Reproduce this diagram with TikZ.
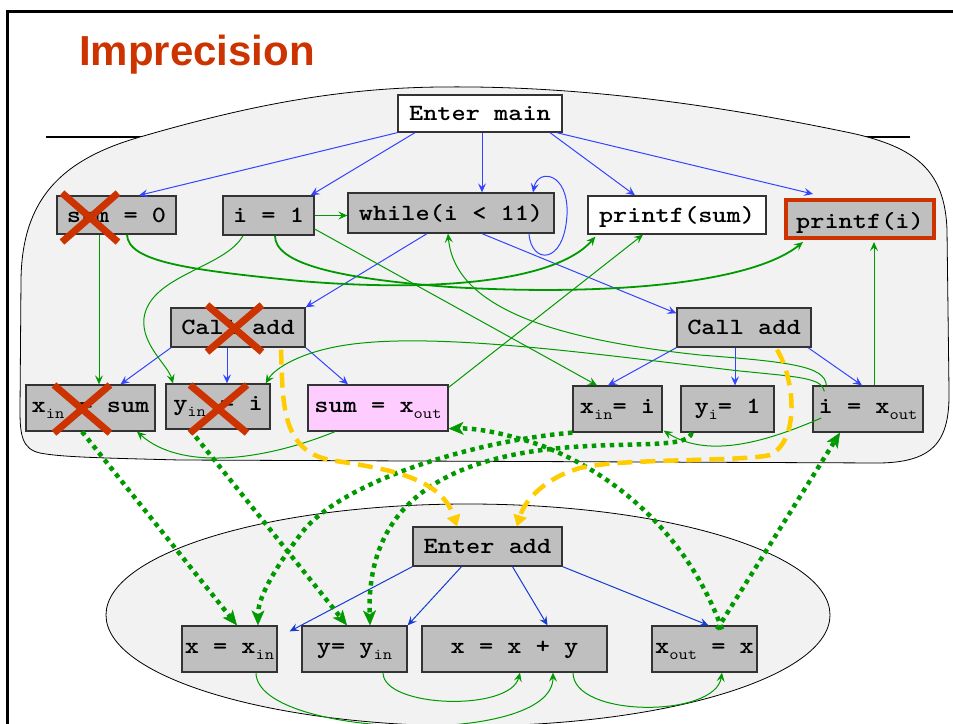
\documentclass[tikz,border=0pt]{standalone}
\usepackage{fontspec}
\usepackage{graphicx}
\usetikzlibrary{arrows.meta,calc}
\newfontfamily\titlefont{Liberation Sans}
\definecolor{titlered}{RGB}{204,51,0}
\definecolor{paneback}{RGB}{242,242,242}
\definecolor{stmtgray}{RGB}{191,191,191}
\definecolor{outpink}{RGB}{255,204,255}
\definecolor{cfgblue}{RGB}{51,68,255}
\definecolor{addblue}{RGB}{20,60,210}
\definecolor{depgreen}{RGB}{0,153,0}
\definecolor{linkyellow}{RGB}{255,204,0}
% statement text: bold typewriter, slightly flattened
\newcommand\cd[1]{\scalebox{1}[0.86]{#1}}
\newcommand\lowtxt[1]{\raisebox{-7pt}{\fontsize{18}{18}\selectfont\mdseries #1}}
% red cross over a removed statement
\newcommand\knockout[3]{%
  \draw[knock] ([shift={(-#2,-#3)}]#1) -- ([shift={(#2,#3)}]#1);
  \draw[knock] ([shift={(#2,-#3)}]#1) -- ([shift={(-#2,#3)}]#1);}
\tikzset{
  stmt/.style={draw=black!80, line width=1.3pt, fill=stmtgray, inner sep=0pt,
    font=\fontsize{27}{27}\selectfont\ttfamily\bfseries, text height=18pt, text depth=4pt},
  subst/.style={stmt, text height=14pt, text depth=6pt},
  cfg/.style={cfgblue, line width=1pt, -{Stealth[length=9pt,width=8pt,inset=3.5pt]}},
  cfgadd/.style={cfg, addblue},
  dep/.style={depgreen, line width=1pt, -{Stealth[length=9pt,width=8pt,inset=3.5pt]}},
  depthick/.style={dep, line width=1.8pt},
  link/.style={depgreen, line width=4.5pt, dash pattern=on 4.5pt off 4.5pt,
    -{Stealth[length=15pt,width=13pt,inset=4pt,line width=0.5pt]}},
  callret/.style={linkyellow, line width=4.5pt, dash pattern=on 15pt off 8pt,
    -{Triangle[length=11pt,width=14pt,line width=0.5pt]}},
  knock/.style={titlered, line width=7pt},
  region/.style={fill=paneback, draw=black, line width=0.8pt},
}
\begin{document}
\begin{tikzpicture}[x=1pt,y=-1pt]
\useasboundingbox (0,0) rectangle (953,723);
% slide frame and rule
\draw[line width=3pt] (7,730) -- (7,11) -- (960,11);
\draw[line width=2.5pt] (46,137) -- (910,137);
\node[anchor=base west, inner sep=0pt, text=titlered, font=\titlefont\bfseries\fontsize{42}{42}\selectfont] (title) at (79,65) {Imprecision};

% procedure regions
\draw[region] (440,87) .. controls (600,85) and (750,112) .. (851,133)
  .. controls (915,147) and (945,170) .. (947,230) -- (949,390)
  .. controls (950,440) and (935,462) .. (880,463) -- (180,460)
  .. controls (100,458) and (60,457) .. (40,453)
  .. controls (22,449) and (20,435) .. (20,410) -- (21,280)
  .. controls (22,200) and (60,160) .. (140,137)
  .. controls (250,105) and (340,88) .. (440,87) -- cycle;
\draw[region] (468,615) ellipse [x radius=362pt, y radius=111pt];

% main
\node[stmt, fill=white, minimum width=164pt, minimum height=37pt] (entermain) at (480,113.5) {\cd{Enter main}};
\node[stmt, minimum width=119pt, minimum height=38pt] (sumzero) at (116.5,215) {\cd{sum = 0}};
\node[stmt, minimum width=91pt, minimum height=39pt] (ione) at (268.5,215.5) {\cd{i = 1}};
\node[stmt, minimum width=206pt, minimum height=40pt] (loopw) at (451,213) {\cd{while(i < 11)}};
\node[stmt, fill=white, minimum width=178pt, minimum height=38pt] (psum) at (677,215) {\cd{printf(sum)}};
\node[stmt, draw=titlered, line width=4pt, minimum width=148pt, minimum height=38pt, text height=19pt, text depth=1pt] (pri) at (860,219) {\cd{printf(i)}};
\node[stmt, minimum width=134pt, minimum height=39pt] (calll) at (238,327.5) {\cd{Call add}};
\node[stmt, minimum width=134pt, minimum height=39pt] (callr) at (744,327.5) {\cd{Call add}};
\node[subst, minimum width=129pt, minimum height=46pt] (xinsum) at (90.5,408) {\cd{x\lowtxt{in} = sum}};
\node[subst, minimum width=104pt, minimum height=45pt] (yini) at (218,406.5) {\cd{y\lowtxt{in} = i}};
\node[subst, fill=outpink, minimum width=140pt, minimum height=46pt] (sumxout) at (378,408) {\cd{sum = x\lowtxt{out}}};
\node[subst, minimum width=89pt, minimum height=46pt] (xini) at (617.5,409) {\cd{x\lowtxt{in}= i}};
\node[subst, minimum width=93pt, minimum height=46pt] (yione) at (727.5,409) {\cd{y\lowtxt{i}= 1}};
\node[subst, minimum width=110pt, minimum height=46pt] (ixout) at (868,409) {\cd{i = x\lowtxt{out}}};

% add
\node[stmt, minimum width=149pt, minimum height=39pt] (enteradd) at (487.5,546.5) {\cd{Enter add}};
\node[subst, minimum width=95pt, minimum height=46pt] (xxin) at (229.5,649) {\cd{x = x\lowtxt{in}}};
\node[subst, minimum width=105pt, minimum height=46pt] (yyin) at (354.5,649) {\cd{y= y\lowtxt{in}}};
\node[subst, minimum width=185pt, minimum height=46pt] (xxy) at (514.5,649) {\cd{x = x + y}};
\node[subst, minimum width=105pt, minimum height=46pt] (xoutx) at (704.5,649) {\cd{x\lowtxt{out} = x}};

% control flow
\draw[cfg] (entermain.south west) -- ([shift={(22.5,0)}]sumzero.north);
\draw[cfg] ([shift={(-65,0)}]entermain.south) -- ([shift={(-4,0)}]ione.north east);
\draw[cfg] ([shift={(2,0)}]entermain.south) -- ([shift={(31,0)}]loopw.north);
\draw[cfg] ([shift={(70,0)}]entermain.south) -- ([shift={(-42,0)}]psum.north);
\draw[cfg] ([shift={(-6,0)}]entermain.south east) -- ([shift={(-47,-4)}]pri.north);
\draw[cfg] ([shift={(78,0)}]loopw.south) .. controls (531,264) and (564,266) .. (567,215)
  .. controls (569,172) and (538,168) .. ([shift={(82,0)}]loopw.north);
\draw[cfg] ([shift={(-24,0)}]loopw.south) -- (calll.north east);
\draw[cfg] ([shift={(31,0)}]loopw.south) -- ([shift={(0,6)}]callr.north west);
\draw[cfg] ([shift={(-67,0)}]calll.south) -- ([shift={(30,0)}]xinsum.north);
\draw[cfg] ([shift={(-11,0)}]calll.south) -- ([shift={(9,0)}]yini.north);
\draw[cfg] (calll.south east) -- ([shift={(-30,0)}]sumxout.north);
\draw[cfg] (callr.south west) -- ([shift={(-9.5,0)}]xini.north);
\draw[cfg] ([shift={(-9,0)}]callr.south) -- ([shift={(7.5,0)}]yione.north);
\draw[cfg] ([shift={(64,0)}]callr.south) -- ([shift={(-6,0)}]ixout.north);
\draw[cfgadd] (enteradd.south west) -- ([shift={(12,6)}]xxin.north east);
\draw[cfgadd] ([shift={(-26,0)}]enteradd.south) -- (yyin.north east);
\draw[cfgadd] ([shift={(25,0)}]enteradd.south) -- ([shift={(33,0)}]xxy.north);
\draw[cfgadd] (enteradd.south east) -- ([shift={(4,0)}]xoutx.north);

% data dependences
\draw[dep] (ione.east) -- (ione.east -| loopw.west);
\draw[dep] ([shift={(-17.5,0)}]sumzero.south) -- ([shift={(8.5,0)}]xinsum.north);
\draw[depthick] ([shift={(10.5,0)}]sumzero.south) .. controls (128,262) and (190,270) .. (300,281)
  .. controls (430,292) and (555,283) .. ([shift={(8,2)}]psum.south west);
\draw[depthick] ([shift={(6.5,0)}]ione.south) .. controls (275,262) and (330,278) .. (450,287)
  .. controls (600,296) and (750,285) .. ([shift={(-57,2)}]pri.south);
\draw[dep] ([shift={(0,13.5)}]ione.east) -- ([shift={(-20.5,0)}]xini.north);
\draw[dep] ([shift={(-25.5,0)}]ione.south) .. controls (225,268) and (150,275) .. (144,318)
  .. controls (141,345) and (168,365) .. ([shift={(-45,0)}]yini.north);
\draw[dep] ([shift={(0,3)}]sumxout.north east) -- ([shift={(-34,0)}]psum.south);
\draw[dep] ([shift={(14,0)}]ixout.north west) .. controls (825,366) and (790,362) .. (700,355)
  .. controls (560,340) and (455,310) .. ([shift={(-3,0)}]loopw.south);
\draw[dep] ([shift={(12,6)}]ixout.north west) .. controls (822,378) and (800,377) .. (740,371)
  .. controls (600,355) and (430,330) .. (340,346)
  .. controls (300,353) and (275,368) .. ([shift={(-5,0)}]yini.north east);
\draw[dep] ([shift={(9,9)}]ixout.west) .. controls (770,440) and (710,460) .. ([shift={(1,-2)}]xini.south east);
\draw[dep] ([shift={(6,0)}]ixout.north) -- ([shift={(14,2)}]pri.south);
\draw[dep] ([shift={(-43,0)}]sumxout.south) .. controls (260,462) and (180,470) .. ([shift={(46.5,0)}]xinsum.south);
\draw[dep] ([shift={(26.5,0)}]xxin.south) .. controls (256,738) and (553,748) .. ([shift={(38.5,0)}]xxy.south);
\draw[dep] ([shift={(28.5,0)}]yyin.south) .. controls (383,708) and (510,712) .. ([shift={(5.5,0)}]xxy.south);
\draw[dep] ([shift={(58.5,0)}]xxy.south) .. controls (573,718) and (715,718) .. ([shift={(17.5,0)}]xoutx.south);

% parameter in / out
\draw[link] ([shift={(-8.5,0)}]xinsum.south) -- ([shift={(7.5,0)}]xxin.north);
\draw[link] ([shift={(-28,0)}]yini.south) -- ([shift={(-7.5,0)}]yyin.north);
\draw[link] (xini.south west) .. controls (480,440) and (340,480) .. (300,535)
  .. controls (270,575) and (258,600) .. ([shift={(28.5,0)}]xxin.north);
\draw[link] ([shift={(-36,0)}]yione.south) .. controls (690,447) and (640,443) .. (590,446)
  .. controls (450,452) and (366,500) .. ([shift={(15.5,0)}]yyin.north);
\draw[link] ([shift={(17.5,4)}]xoutx.north) .. controls (690,540) and (620,475) .. (540,445)
  .. controls (510,435) and (480,428) .. ([shift={(0,-3)}]sumxout.south east);
\draw[link] ([shift={(12.5,4)}]xoutx.north) -- ([shift={(-28,0)}]ixout.south);

% call edges
\draw[callret] ([shift={(43,2)}]calll.south) .. controls (283,400) and (280,450) .. (330,460)
  .. controls (380,468) and (440,475) .. ([shift={(-30.5,0)}]enteradd.north);
\draw[callret] ([shift={(33,2)}]callr.south) .. controls (795,380) and (800,440) .. (770,455)
  .. controls (740,462) and (620,458) .. (580,468)
  .. controls (545,478) and (525,500) .. ([shift={(29.5,0)}]enteradd.north);

% removed statements
\coordinate (k1) at ([shift={(-26.5,2.5)}]sumzero.center);
\coordinate (k2) at ([shift={(-3.5,1)}]calll.center);
\coordinate (k3) at ([shift={(-8.5,1)}]xinsum.center);
\coordinate (k4) at ([shift={(0.5,2.5)}]yini.center);
\knockout{k1}{28}{24.5}
\knockout{k2}{27.5}{23.5}
\knockout{k3}{28}{24}
\knockout{k4}{28.5}{24}
\end{tikzpicture}
\end{document}
